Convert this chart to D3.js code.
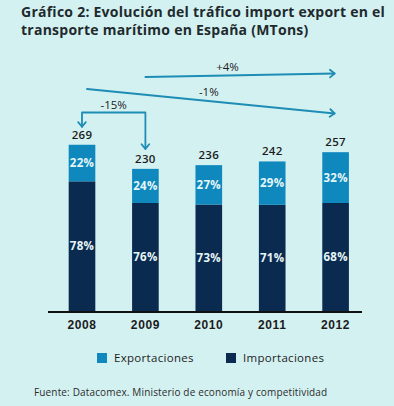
<!DOCTYPE html>
<html>
<head>
<meta charset="utf-8">
<script src="https://cdn.jsdelivr.net/npm/d3@7"></script>
<style>
  html, body { margin: 0; padding: 0; background: #d4f1f1; }
  svg { display: block; font-family: "Open Sans", "DejaVu Sans", sans-serif; }
  .title { font-size: 14px; font-weight: 700; fill: #1e2a2e; letter-spacing: 0.25px; }
  .total { font-size: 11.5px; font-weight: 600; fill: #1c1c1c; letter-spacing: 0.3px; }
  .pct { font-size: 11.5px; font-weight: 700; fill: #e6f6f8; letter-spacing: 0.3px; }
  .year { font-size: 12px; font-weight: 600; fill: #1c1c1c; letter-spacing: 0.6px; }
  .ann { font-size: 11.5px; font-weight: 400; fill: #1c1c1c; }
  .legend { font-size: 11.5px; fill: #1c1c1c; letter-spacing: 0.3px; }
  .source { font-size: 10px; fill: #2b2b2b; letter-spacing: 0.15px; }
</style>
</head>
<body>
<div id="chart"></div>
<script>
const years = ["2008", "2009", "2010", "2011", "2012"];
const totals = [269, 230, 236, 242, 257];
const exportPct = [22, 24, 27, 29, 32];
const importPct = [78, 76, 73, 71, 68];
const seriesNames = ["Exportaciones", "Importaciones"];
const colours = { Exportaciones: "#0f88bd", Importaciones: "#0b2a4f" };
const arrowColour = "#1d8db5";

const width = 394, height = 406;

const svg = d3.select("#chart")
  .append("svg")
  .attr("width", width)
  .attr("height", height);

svg.append("rect")
  .attr("width", width)
  .attr("height", height)
  .attr("fill", "#d4f1f1");

// Title
const title = svg.append("text").attr("class", "title");
title.append("tspan").attr("x", 21).attr("y", 17)
  .text("Gráfico 2: Evolución del tráfico import export en el");
title.append("tspan").attr("x", 21).attr("y", 35)
  .text("transporte marítimo en España (MTons)");

// Scales
const xScale = d3.scaleBand()
  .domain(years)
  .range([50.3, 367.3])
  .paddingInner(0.58)
  .paddingOuter(0.29);

const yScale = d3.scaleLinear()
  .domain([0, 300])
  .range([311, 125.6]);

const data = years.map((y, i) => ({
  year: y,
  total: totals[i],
  exp: totals[i] * exportPct[i] / 100,
  imp: totals[i] * importPct[i] / 100,
  expPct: exportPct[i],
  impPct: importPct[i]
}));

const bars = svg.append("g");

// Importaciones (bottom)
bars.selectAll(".imp")
  .data(data)
  .join("rect")
  .attr("class", "imp")
  .attr("x", d => xScale(d.year))
  .attr("width", xScale.bandwidth())
  .attr("y", d => yScale(d.imp))
  .attr("height", d => yScale(0) - yScale(d.imp))
  .attr("fill", colours.Importaciones);

// Exportaciones (top)
bars.selectAll(".exp")
  .data(data)
  .join("rect")
  .attr("class", "exp")
  .attr("x", d => xScale(d.year))
  .attr("width", xScale.bandwidth())
  .attr("y", d => yScale(d.total))
  .attr("height", d => yScale(d.imp) - yScale(d.total))
  .attr("fill", colours.Exportaciones);

const cx = d => xScale(d.year) + xScale.bandwidth() / 2;

bars.selectAll(".pct-imp")
  .data(data)
  .join("text")
  .attr("class", "pct")
  .attr("text-anchor", "middle")
  .attr("x", cx)
  .attr("y", d => (yScale(0) + yScale(d.imp)) / 2 + 4)
  .text(d => d.impPct + "%");

bars.selectAll(".pct-exp")
  .data(data)
  .join("text")
  .attr("class", "pct")
  .attr("text-anchor", "middle")
  .attr("x", cx)
  .attr("y", d => (yScale(d.imp) + yScale(d.total)) / 2 + 4)
  .text(d => d.expPct + "%");

bars.selectAll(".total")
  .data(data)
  .join("text")
  .attr("class", "total")
  .attr("text-anchor", "middle")
  .attr("x", cx)
  .attr("y", d => yScale(d.total) - 6)
  .text(d => d.total);

// Axis baseline and year labels
const xAxis = d3.axisBottom(xScale).tickSize(0).tickPadding(9);
const xAxisG = svg.append("g")
  .attr("transform", `translate(0,${yScale(0)})`)
  .call(xAxis);
xAxisG.select(".domain").remove();
xAxisG.selectAll("text").attr("class", "year").attr("font-family", null).attr("font-size", null).attr("fill", null);
svg.append("line")
  .attr("x1", 48).attr("x2", 362)
  .attr("y1", yScale(0) + 1).attr("y2", yScale(0) + 1)
  .attr("stroke", "#111")
  .attr("stroke-width", 2.2);

// Annotations
const ann = svg.append("g")
  .attr("fill", "none")
  .attr("stroke", arrowColour)
  .attr("stroke-width", 1.8)
  .attr("stroke-linecap", "round")
  .attr("stroke-linejoin", "round");

function arrowHead(x, y, angle) {
  const s = 6;
  const a1 = angle + Math.PI * 0.78, a2 = angle - Math.PI * 0.78;
  ann.append("path")
    .attr("d", `M${x + s * Math.cos(a1)},${y + s * Math.sin(a1)}L${x},${y}L${x + s * Math.cos(a2)},${y + s * Math.sin(a2)}`);
}

const c08 = cx(data[0]), c09 = cx(data[1]), c12 = cx(data[4]);

// +4% trend (2009 -> 2012)
ann.append("line").attr("x1", c09).attr("y1", 77).attr("x2", c12 - 1).attr("y2", 73.5);
arrowHead(c12 - 1, 73.5, Math.atan2(-3.5, c12 - c09));
svg.append("text").attr("class", "ann").attr("text-anchor", "middle")
  .attr("x", (c09 + c12) / 2 - 13).attr("y", 71).text("+4%");

// -1% trend (2008 -> 2012)
ann.append("line").attr("x1", c08 + 5).attr("y1", 89).attr("x2", c12 - 1).attr("y2", 113.5);
arrowHead(c12 - 1, 113.5, Math.atan2(24.5, c12 - c08));
svg.append("text").attr("class", "ann").attr("text-anchor", "middle")
  .attr("x", (c08 + c12) / 2).attr("y", 96).text("-1%");

// -15% bracket (2008 -> 2009)
const bracketY = 112.5;
ann.append("path")
  .attr("d", `M${c08},${yScale(data[0].total) - 18}V${bracketY}H${c09}V${yScale(data[1].total) - 20}`);
arrowHead(c08, yScale(data[0].total) - 18, Math.PI / 2);
arrowHead(c09, yScale(data[1].total) - 20, Math.PI / 2);
svg.append("text").attr("class", "ann").attr("text-anchor", "middle")
  .attr("x", (c08 + c09) / 2).attr("y", bracketY - 4).text("-15%");

// Legend
const legend = svg.append("g").attr("transform", "translate(97,353)");
const legendItems = legend.selectAll("g")
  .data(seriesNames)
  .join("g")
  .attr("transform", (d, i) => `translate(${i * 129},0)`);
legendItems.append("rect")
  .attr("width", 10).attr("height", 10)
  .attr("fill", d => colours[d]);
legendItems.append("text")
  .attr("class", "legend")
  .attr("x", 17).attr("y", 9)
  .text(d => d);

// Source
svg.append("text")
  .attr("class", "source")
  .attr("x", 34).attr("y", 396)
  .text("Fuente: Datacomex. Ministerio de economía y competitividad");
</script>
</body>
</html>
